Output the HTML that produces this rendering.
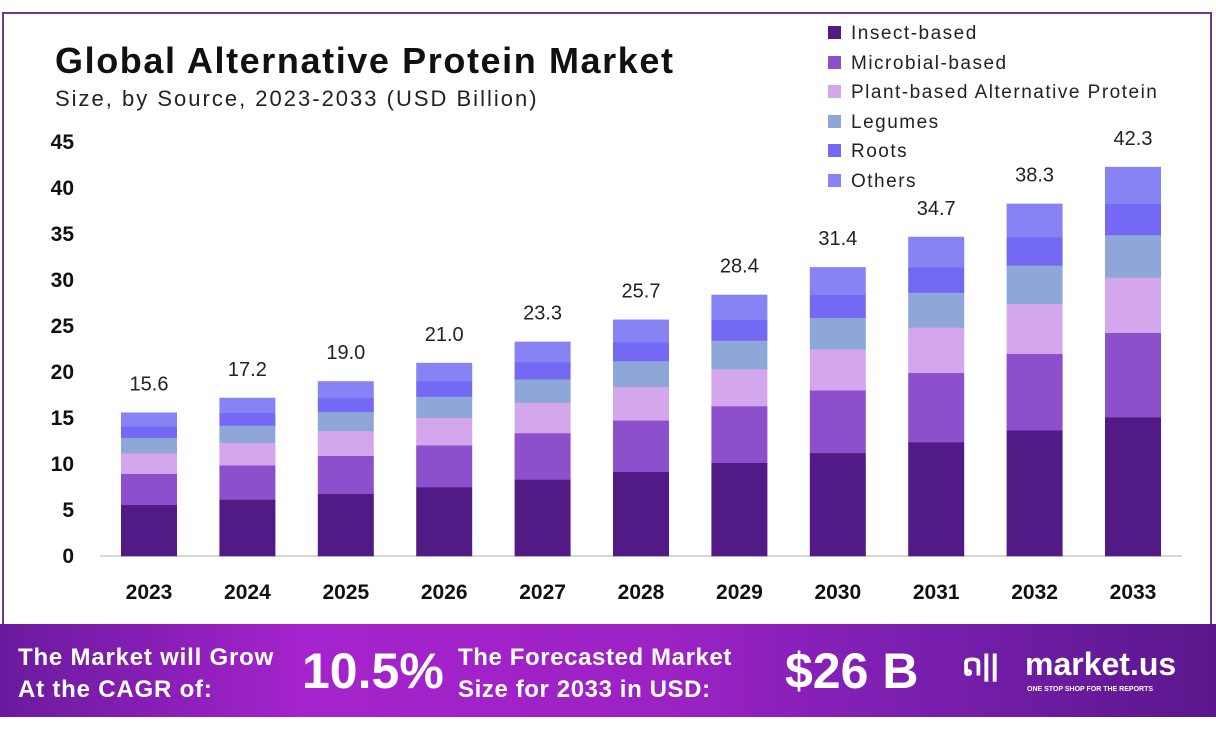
<!DOCTYPE html>
<html><head><style>
body{margin:0;width:1216px;height:732px;background:#fff;font-family:"Liberation Sans",sans-serif;position:relative;overflow:hidden}
.frame{position:absolute;left:2px;top:12px;width:1206px;height:612px;border:2px solid #6b3a8f;border-bottom:none}
.t{position:absolute;white-space:nowrap}
.banner{position:absolute;left:0;top:624px;width:1216px;height:93px;background:linear-gradient(90deg,#6a1a9e 0%,#a523cc 25%,#9c22c4 55%,#7a1fb0 75%,#5a178c 100%)}
.bw{color:#fff;font-weight:bold;position:absolute;white-space:nowrap}
</style></head><body>
<div class="frame"></div>
<div class="t" style="left:55px;top:40px;font-size:36px;font-weight:bold;color:#111;letter-spacing:1.6px">Global Alternative Protein Market</div>
<div class="t" style="left:55px;top:86px;font-size:22px;color:#222;letter-spacing:2px">Size, by Source, 2023-2033 (USD Billion)</div>
<svg style="position:absolute;left:0;top:0" width="1216" height="624" font-family="Liberation Sans, sans-serif">
<g font-size="21" font-weight="bold" fill="#111" text-anchor="end">
<text x="74" y="563">0</text><text x="74" y="517">5</text><text x="74" y="471">10</text><text x="74" y="425">15</text><text x="74" y="379">20</text><text x="74" y="333">25</text><text x="74" y="287">30</text><text x="74" y="241">35</text><text x="74" y="195">40</text><text x="74" y="149">45</text>
</g>
<line x1="100" y1="556" x2="1182" y2="556" stroke="#ccc" stroke-width="1.5"/>
<g id="bars"></g>
<g font-size="19" fill="#222" letter-spacing="1.5">
<rect x="828" y="26" width="13" height="13" fill="#521a85"/><text x="851" y="39">Insect-based</text>
<rect x="828" y="56" width="13" height="13" fill="#8e4fcc"/><text x="851" y="69">Microbial-based</text>
<rect x="828" y="85" width="13" height="13" fill="#d4a6eb"/><text x="851" y="98">Plant-based Alternative Protein</text>
<rect x="828" y="115" width="13" height="13" fill="#8fa6d8"/><text x="851" y="128">Legumes</text>
<rect x="828" y="144" width="13" height="13" fill="#7469f5"/><text x="851" y="157">Roots</text>
<rect x="828" y="174" width="13" height="13" fill="#8883f5"/><text x="851" y="187">Others</text>
</g>
</svg>
<div class="banner">
<div class="bw" style="left:18px;top:18px;font-size:24px;line-height:32px;letter-spacing:0.8px">The Market will Grow<br>At the CAGR of:</div>
<div class="bw" style="left:302px;top:18px;font-size:50px">10.5%</div>
<div class="bw" style="left:458px;top:18px;font-size:24px;line-height:32px;letter-spacing:0.6px">The Forecasted Market<br>Size for 2033 in USD:</div>
<div class="bw" style="left:785px;top:18px;font-size:50px">$26 B</div>
<div class="bw" style="left:962px;top:24px;font-size:30px">ດ||</div>
<div class="bw" style="left:1025px;top:22px;font-size:32px">market.us</div>
<div class="bw" style="left:1027px;top:62px;font-size:7px">ONE STOP SHOP FOR THE REPORTS</div>
</div>
<script>
var vals=[15.6,17.2,19.0,21.0,23.3,25.7,28.4,31.4,34.7,38.3,42.3];
var fr=[0.357,0.217,0.142,0.109,0.08,0.095];
var col=["#521a85","#8e4fcc","#d4a6eb","#8fa6d8","#7469f5","#8883f5"];
var s="";
vals.forEach(function(v,i){
 var cx=149+i*98.4, x=cx-28, y=556;
 fr.forEach(function(f,j){var h=v*f*9.2; y-=h; s+='<rect x="'+x+'" y="'+y+'" width="56" height="'+(h+0.3)+'" fill="'+col[j]+'"/>';});
 s+='<text x="'+cx+'" y="'+(y-22)+'" font-size="20" fill="#222" text-anchor="middle">'+v.toFixed(1)+'</text>';
 s+='<text x="'+cx+'" y="599" font-size="21" font-weight="bold" fill="#111" text-anchor="middle">'+(2023+i)+'</text>';
});
document.getElementById("bars").innerHTML=s;
</script>
</body></html>
